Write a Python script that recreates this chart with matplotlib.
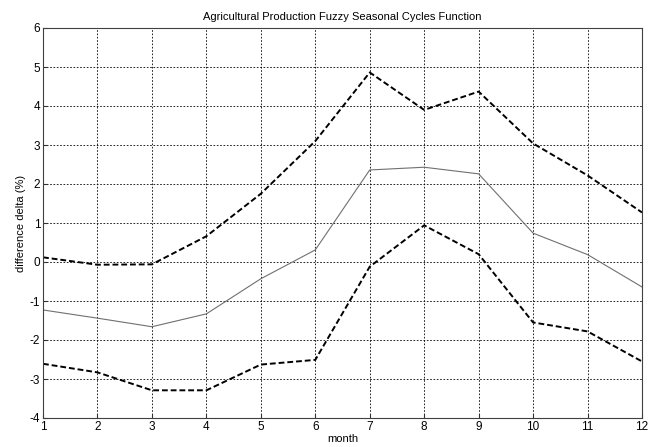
import matplotlib
matplotlib.use("Agg")
import matplotlib.pyplot as plt

plt.rcParams['font.family'] = ['Liberation Sans', 'DejaVu Sans']
plt.rcParams['axes.unicode_minus'] = False

months = [1, 2, 3, 4, 5, 6, 7, 8, 9, 10, 11, 12]
upper = [0.12, -0.07, -0.06, 0.66, 1.75, 3.1, 4.86, 3.9, 4.37, 3.04, 2.22, 1.27]
middle = [-1.23, -1.44, -1.66, -1.33, -0.43, 0.31, 2.36, 2.43, 2.26, 0.74, 0.19, -0.64]
lower = [-2.61, -2.83, -3.29, -3.29, -2.63, -2.51, -0.12, 0.94, 0.2, -1.55, -1.78, -2.55]
yticks = [-4, -3, -2, -1, 0, 1, 2, 3, 4, 5, 6]

fig = plt.figure(figsize=(6.56, 4.47), dpi=100)
ax = fig.add_axes([43/656, 1-418/447, (642-43)/656, (418-28)/447])

ax.plot(months, upper, color='black', lw=1.4, linestyle=(0, (3, 1.5)))
ax.plot(months, middle, color='#707070', lw=0.8, linestyle='-')
ax.plot(months, lower, color='black', lw=1.4, linestyle=(0, (3, 1.5)))

ax.set_xlim(1, 12)
ax.set_ylim(-4, 6)
ax.set_xticks(months)
ax.set_yticks(yticks)
ax.grid(True, color='black', linestyle=(0, (2, 2)), lw=0.6)
ax.tick_params(direction='in', length=3, labelsize=8.5, pad=2, colors='#333333', labelcolor='black')
for s in ax.spines.values():
    s.set_color('#404040')
    s.set_linewidth(0.8)

ax.set_title('Agricultural Production Fuzzy Seasonal Cycles Function', fontsize=8, pad=6)
ax.set_xlabel('month', fontsize=8, labelpad=1)
ax.set_ylabel('difference delta (%)', fontsize=8, labelpad=3)

fig.savefig('out.png', dpi=100)
